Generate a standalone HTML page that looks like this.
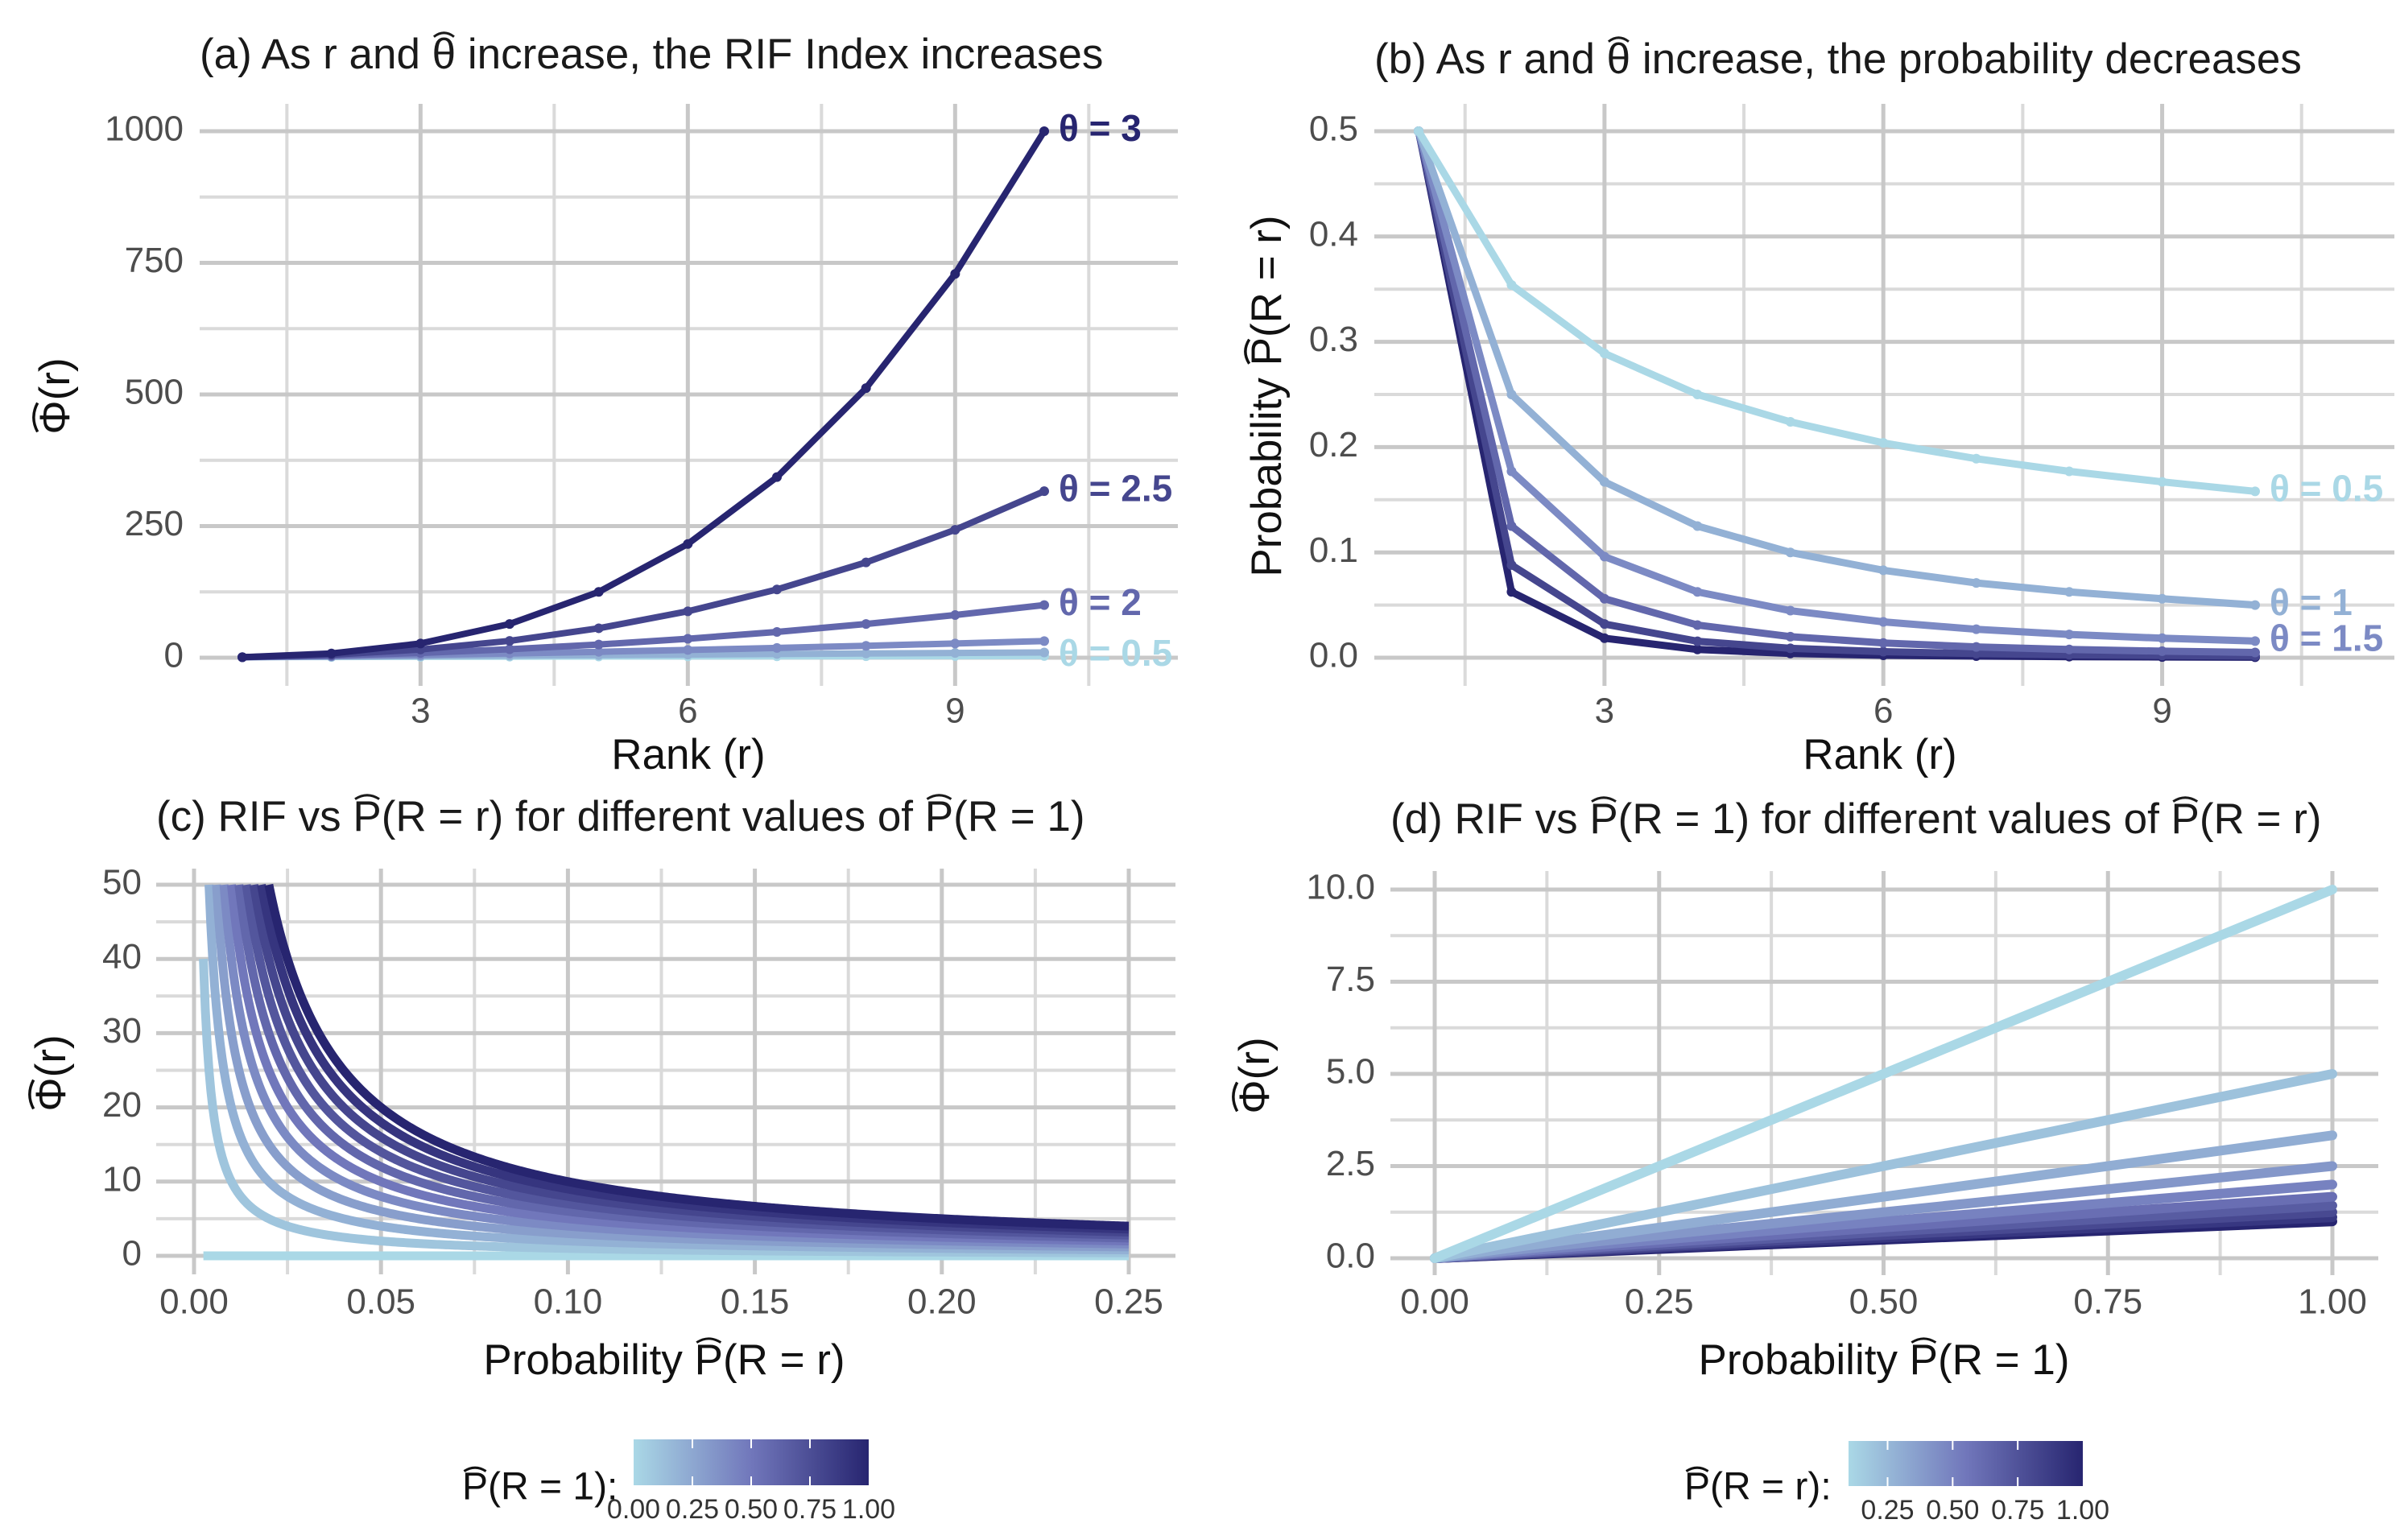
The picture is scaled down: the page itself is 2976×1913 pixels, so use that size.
<!DOCTYPE html>
<html><head><meta charset="utf-8">
<style>
html,body{margin:0;padding:0;background:#fff;}
svg{display:block;font-family:"Liberation Sans",sans-serif;}
</style></head>
<body>
<svg id="fig" width="2976" height="1913" viewBox="0 0 2976 1913" xmlns="http://www.w3.org/2000/svg">
<defs>
<linearGradient id="gradC" x1="0" x2="1" y1="0" y2="0">
<stop offset="0" stop-color="#aad8e6"/><stop offset="0.5" stop-color="#7177bb"/><stop offset="1" stop-color="#272570"/>
</linearGradient>
<linearGradient id="gradD" x1="0" x2="1" y1="0" y2="0">
<stop offset="0" stop-color="#aad8e6"/><stop offset="0.5" stop-color="#7177bb"/><stop offset="1" stop-color="#272570"/>
</linearGradient>
</defs>
<g id="root"></g>
</svg>
<script>
// ---------- Panel (a) data ----------
const aRanks = [1,2,3,4,5,6,7,8,9,10];
const aThetas = [0.5,1,1.5,2,2.5,3];
const aTheta05 = [1,1.41,1.73,2,2.24,2.45,2.65,2.83,3,3.16];
const aTheta10 = [1,2,3,4,5,6,7,8,9,10];
const aTheta15 = [1,2.83,5.2,8,11.18,14.7,18.52,22.63,27,31.62];
const aTheta20 = [1,4,9,16,25,36,49,64,81,100];
const aTheta25 = [1,5.66,15.59,32,55.9,88.18,129.64,181.02,243,316.23];
const aTheta30 = [1,8,27,64,125,216,343,512,729,1000];
const aXTicks = [3,6,9];
const aYTicks = [0,250,500,750,1000];
// ---------- Panel (b) data ----------
const bTheta05 = [0.5,0.354,0.289,0.25,0.224,0.204,0.189,0.177,0.167,0.158];
const bTheta10 = [0.5,0.25,0.167,0.125,0.1,0.083,0.071,0.0625,0.056,0.05];
const bTheta15 = [0.5,0.177,0.096,0.0625,0.0447,0.034,0.027,0.0221,0.0185,0.0158];
const bTheta20 = [0.5,0.125,0.056,0.031,0.02,0.014,0.0102,0.0078,0.0062,0.005];
const bTheta25 = [0.5,0.088,0.032,0.0156,0.0089,0.0057,0.0039,0.0028,0.0021,0.0016];
const bTheta30 = [0.5,0.0625,0.0185,0.0078,0.004,0.0023,0.0015,0.001,0.0007,0.0005];
const bYTicks = [0,0.1,0.2,0.3,0.4,0.5];
const bYTickLabels = ["0.0","0.1","0.2","0.3","0.4","0.5"];
// ---------- Panel (c) data ----------
const cP1Values = [0,0.1,0.2,0.3,0.4,0.5,0.6,0.7,0.8,0.9,1.0];
const cPrMin = 0.0025, cPrMax = 0.25, cPhiCap = 50;
const cXTicks = [0,0.05,0.1,0.15,0.2,0.25];
const cXTickLabels = ["0.00","0.05","0.10","0.15","0.20","0.25"];
const cYTicks = [0,10,20,30,40,50];
// ---------- Panel (d) data ----------
const dPrValues = [0.1,0.2,0.3,0.4,0.5,0.6,0.7,0.8,0.9,1.0];
const dP1Range = [0,1];
const dXTicks = [0,0.25,0.5,0.75,1];
const dXTickLabels = ["0.00","0.25","0.50","0.75","1.00"];
const dYTicks = [0,2.5,5,7.5,10];
const dYTickLabels = ["0.0","2.5","5.0","7.5","10.0"];
const cLegendTicks = [0,0.25,0.5,0.75,1];
const cLegendLabels = ["0.00","0.25","0.50","0.75","1.00"];
const dLegendTicks = [0.25,0.5,0.75,1];
const dLegendLabels = ["0.25","0.50","0.75","1.00"];

const NS = "http://www.w3.org/2000/svg";
const root = document.getElementById('root');
function mk(tag, attrs, parent, text){
  const e = document.createElementNS(NS, tag);
  for (const k in attrs) e.setAttribute(k, attrs[k]);
  if (text !== undefined) e.textContent = text;
  (parent||root).appendChild(e);
  return e;
}
function lin(d0,d1,r0,r1){ return v => r0 + (v-d0)*(r1-r0)/(d1-d0); }
function hex(c){ return [parseInt(c.slice(1,3),16),parseInt(c.slice(3,5),16),parseInt(c.slice(5,7),16)]; }
const stops = [hex("#aad8e6"),hex("#7177bb"),hex("#272570")];
function col(t){
  t = Math.max(0,Math.min(1,t));
  let a,b,u;
  if (t<0.5){a=stops[0];b=stops[1];u=t/0.5;} else {a=stops[1];b=stops[2];u=(t-0.5)/0.5;}
  const c=a.map((v,i)=>Math.round(v+(b[i]-v)*u));
  return "rgb("+c.join(",")+")";
}
// draw a hat over θ, Φ, and P that is followed by "("
function hats(textEl, parent, chars, sw){
  const s = textEl.textContent;
  for (let i=0;i<s.length;i++){
    if (chars.indexOf(s[i])<0) continue;
    if (s[i]==='P' && s[i+1]!=='(') continue;
    let ext;
    try { ext = textEl.getExtentOfChar(i); } catch(e){ continue; }
    const fs = parseFloat(textEl.getAttribute('font-size'));
    const cx = ext.x + ext.width/2, w = Math.max(ext.width*0.85, fs*0.45);
    const base = ext.y + ext.height*0.13, top = ext.y + ext.height*0.02;
    const h = mk('path',{d:'M'+(cx-w/2)+','+base+' Q'+cx+','+(top-fs*0.06)+' '+(cx+w/2)+','+base,fill:'none',stroke:textEl.getAttribute('fill'),'stroke-width':sw||3},parent);
     
  }
}
function grid(g, x, y, left, right, top, bottom, xMaj, xMin, yMaj, yMin){
  xMin.forEach(v=>{ const l=mk('line',{x1:x(v),x2:x(v),y1:top,y2:bottom,stroke:'#dadada','stroke-width':4},g);  });
  yMin.forEach(v=>{ const l=mk('line',{x1:left,x2:right,y1:y(v),y2:y(v),stroke:'#dadada','stroke-width':4},g);  });
  xMaj.forEach(v=>{ const l=mk('line',{x1:x(v),x2:x(v),y1:top,y2:bottom,stroke:'#c8c8c8','stroke-width':5},g);  });
  yMaj.forEach(v=>{ const l=mk('line',{x1:left,x2:right,y1:y(v),y2:y(v),stroke:'#c8c8c8','stroke-width':5},g);  });
}
function ticks(g, x, y, xT, xL, yT, yL, yLabelRight, xLabelY){
  xT.forEach((v,i)=>{ const t=mk('text',{x:x(v),y:xLabelY,'text-anchor':'middle','font-size':44,fill:'#4d4d4d','dominant-baseline':'middle'},g,xL[i]);  });
  yT.forEach((v,i)=>{ const t=mk('text',{x:yLabelRight,y:y(v),'text-anchor':'end','font-size':44,fill:'#4d4d4d','dominant-baseline':'middle'},g,yL[i]);  });
}
function title(g, x, y, s){ const t=mk('text',{x:x,y:y,'font-size':53,fill:'#1a1a1a','dominant-baseline':'middle'},g,s);   hats(t,g,'θP',3); }
function xtitle(g, x, y, s){ const t=mk('text',{x:x,y:y,'font-size':53,fill:'#111','text-anchor':'middle','dominant-baseline':'middle'},g,s);   hats(t,g,'P',3); }
function ytitle(g, x, y, s){
  const gg = mk('g',{transform:'translate('+x+','+y+') rotate(-90)'},g);
   
  const t=mk('text',{x:0,y:0,'font-size':53,fill:'#111','text-anchor':'middle','dominant-baseline':'middle'},gg,s);
   
  hats(t,gg,'ΦP',3.5);
}
function range(a,b,s){ const r=[]; for(let v=a; v<=b+1e-9; v+=s) r.push(+v.toFixed(6)); return r; }

// ===== Panel (a) =====
(function(){
  const g = mk('g',{});  
  const x = lin(1,10,301,1297), y = lin(0,1000,817,163);
  grid(g,x,y,248,1463,129,852,[3,6,9],[1.5,4.5,7.5,10.5],aYTicks,[125,375,625,875]);
  ticks(g,x,y,aXTicks,aXTicks.map(String),aYTicks,aYTicks.map(String),228,886);
  title(g,248,71,"(a) As r and θ increase, the RIF Index increases");
  xtitle(g,855,941,"Rank (r)");
  ytitle(g,72,492,"Φ(r)");
  const series=[aTheta05,aTheta10,aTheta15,aTheta20,aTheta25,aTheta30];
  series.forEach((s,i)=>{
    const c = col((aThetas[i]-0.5)/2.5);
    const p = mk('polyline',{points:s.map((v,j)=>x(aRanks[j])+','+y(v)).join(' '),fill:'none',stroke:c,'stroke-width':8,'stroke-linejoin':'round'},g);
     
    s.forEach((v,j)=>{ const d=mk('circle',{cx:x(aRanks[j]),cy:y(v),r:6,fill:c},g);  });
  });
  [[5,"θ = 3"],[4,"θ = 2.5"],[3,"θ = 2"],[0,"θ = 0.5"]].forEach(([i,s])=>{
    const t=mk('text',{x:x(10)+18,y:y(series[i][9]),'font-size':46,'font-weight':'bold',fill:col((aThetas[i]-0.5)/2.5),'dominant-baseline':'middle'},g,s);
     
  });
})();

// ===== Panel (b) =====
(function(){
  const g = mk('g',{});  
  const x = lin(1,10,1762,2801), y = lin(0,0.5,817,163);
  grid(g,x,y,1707,2974,129,852,[3,6,9],[1.5,4.5,7.5,10.5],bYTicks,[0.05,0.15,0.25,0.35,0.45]);
  ticks(g,x,y,aXTicks,aXTicks.map(String),bYTicks,bYTickLabels,1687,886);
  title(g,1707,77,"(b) As r and θ increase, the probability decreases");
  xtitle(g,2335,941,"Rank (r)");
  ytitle(g,1577,492,"Probability P(R = r)");
  const series=[bTheta05,bTheta10,bTheta15,bTheta20,bTheta25,bTheta30];
  series.slice().reverse().forEach((s,k)=>{
    const i = series.length-1-k;
    const c = col((aThetas[i]-0.5)/2.5);
    const p = mk('polyline',{points:s.map((v,j)=>x(aRanks[j])+','+y(v)).join(' '),fill:'none',stroke:c,'stroke-width':9,'stroke-linejoin':'round'},g);
     
    s.forEach((v,j)=>{ const d=mk('circle',{cx:x(aRanks[j]),cy:y(v),r:6,fill:c},g);  });
  });
  [[0,"θ = 0.5"],[1,"θ = 1"],[2,"θ = 1.5"]].forEach(([i,s])=>{
    const t=mk('text',{x:x(10)+18,y:y(series[i][9]),'font-size':46,'font-weight':'bold',fill:col((aThetas[i]-0.5)/2.5),'dominant-baseline':'middle'},g,s);
     
  });
})();

// ===== Panel (c) =====
(function(){
  const g = mk('g',{});  
  const x = lin(0,0.25,241,1402), y = lin(0,50,1560,1099);
  grid(g,x,y,194,1460,1079,1583,cXTicks,[0.025,0.075,0.125,0.175,0.225],cYTicks,[5,15,25,35,45]);
  ticks(g,x,y,cXTicks,cXTickLabels,cYTicks,cYTicks.map(String),176,1620);
  title(g,194,1018,"(c) RIF vs P(R = r) for different values of P(R = 1)");
  xtitle(g,825,1693,"Probability P(R = r)");
  ytitle(g,67,1333,"Φ(r)");
  const prGrid = range(cPrMin,cPrMax,0.0005);
  cP1Values.forEach(p1=>{
    const pts = prGrid.map(pr=>[pr,p1/pr]).filter(d=>d[1]<=cPhiCap+0.01);
    const p = mk('polyline',{points:pts.map(d=>x(d[0])+','+y(d[1])).join(' '),fill:'none',stroke:col(p1),'stroke-width':11,'stroke-linejoin':'round'},g);
     
  });
  const lg = mk('g',{},g);  
  const lt = mk('text',{x:574,y:1850,'font-size':48,fill:'#111','dominant-baseline':'middle'},lg,"P(R = 1):");  
  hats(lt,lg,'P',3);
  const bar = mk('rect',{x:787,y:1788,width:292,height:57,fill:'url(#gradC)'},lg);  
  const lx = lin(0,1,787,1079);
  cLegendTicks.forEach((v,i)=>{
    if(v>0 && v<1){ const tk=mk('line',{x1:lx(v),x2:lx(v),y1:1788,y2:1799,stroke:'#fff','stroke-width':2},lg);  
      const tk2=mk('line',{x1:lx(v),x2:lx(v),y1:1834,y2:1845,stroke:'#fff','stroke-width':2},lg);  }
    const t=mk('text',{x:lx(v),y:1877,'font-size':34,fill:'#333','text-anchor':'middle','dominant-baseline':'middle'},lg,cLegendLabels[i]);  
  });
})();

// ===== Panel (d) =====
(function(){
  const g = mk('g',{});  
  const x = lin(0,1,1782,2897), y = lin(0,10,1563,1105);
  grid(g,x,y,1727,2954,1082,1584,dXTicks,[0.125,0.375,0.625,0.875],dYTicks,[1.25,3.75,6.25,8.75]);
  ticks(g,x,y,dXTicks,dXTickLabels,dYTicks,dYTickLabels,1708,1620);
  title(g,1727,1021,"(d) RIF vs P(R = 1) for different values of P(R = r)");
  xtitle(g,2340,1693,"Probability P(R = 1)");
  ytitle(g,1562,1336,"Φ(r)");
  dPrValues.slice().reverse().forEach(pr=>{
    const p = mk('line',{x1:x(dP1Range[0]),y1:y(dP1Range[0]/pr),x2:x(dP1Range[1]),y2:y(dP1Range[1]/pr),stroke:col((pr-0.1)/0.9),'stroke-width':12,'stroke-linecap':'round'},g);
     
  });
  const lg = mk('g',{},g);  
  const lt = mk('text',{x:2092,y:1850,'font-size':48,fill:'#111','dominant-baseline':'middle'},lg,"P(R = r):");  
  hats(lt,lg,'P',3);
  const bar = mk('rect',{x:2296,y:1790,width:291,height:56,fill:'url(#gradD)'},lg);  
  const lx = lin(0.1,1,2296,2587);
  dLegendTicks.forEach((v,i)=>{
    if(v<1){ const tk=mk('line',{x1:lx(v),x2:lx(v),y1:1790,y2:1801,stroke:'#fff','stroke-width':2},lg);  
      const tk2=mk('line',{x1:lx(v),x2:lx(v),y1:1835,y2:1846,stroke:'#fff','stroke-width':2},lg);  }
    const t=mk('text',{x:lx(v),y:1878,'font-size':34,fill:'#333','text-anchor':'middle','dominant-baseline':'middle'},lg,dLegendLabels[i]);  
  });
})();
</script>
</body></html>
